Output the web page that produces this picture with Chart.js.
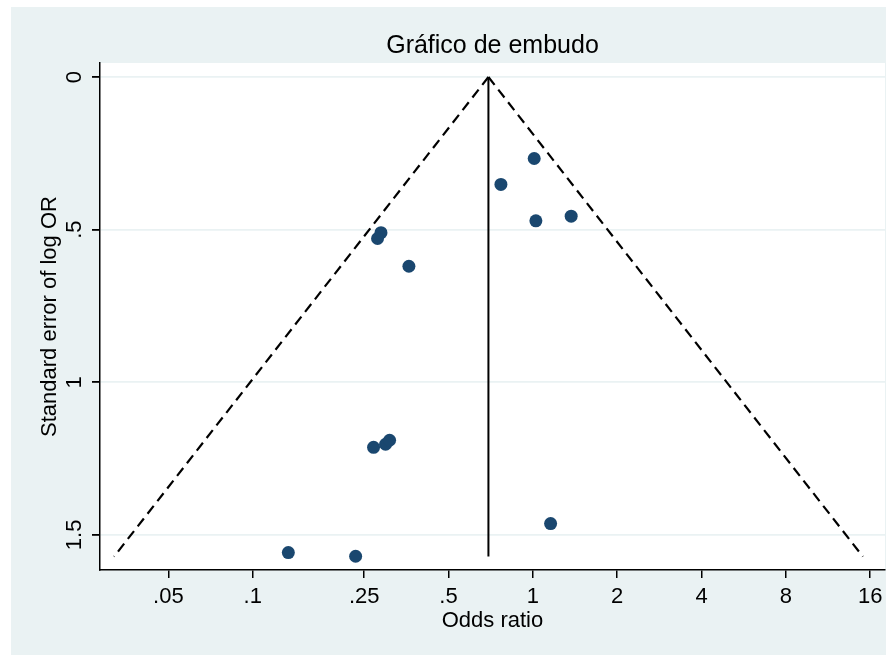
<!DOCTYPE html>
<html>
<head>
<meta charset="utf-8">
<title>Gráfico de embudo</title>
<script src="https://cdn.jsdelivr.net/npm/chart.js@4.4.1/dist/chart.umd.min.js"></script>
<style>
  html, body { margin: 0; padding: 0; background: #fff; }
  #wrap { position: absolute; left: 11px; top: 7px; width: 875px; height: 648px; background: #eaf2f3; }
</style>
</head>
<body>
<div id="wrap"><canvas id="funnelChart" width="875" height="648"></canvas></div>
<script>
// study estimates (odds ratio, SE of log OR)
const oddsRatios = [1.011, 0.769, 1.025, 1.370, 0.287, 0.279, 0.361, 0.270, 0.298, 0.308, 1.157, 0.134, 0.233];
const stdErrors  = [0.267, 0.352, 0.471, 0.456, 0.510, 0.529, 0.620, 1.213, 1.203, 1.190, 1.463, 1.558, 1.570];

// pooled OR line and the 95% funnel limits
const funnelSE    = [0, 1.571];
const pooledLine  = [0.694, 0.694];
const funnelLower = [0.694, 0.0320];
const funnelUpper = [0.694, 15.06];

const xTickValues = [0.05, 0.1, 0.25, 0.5, 1, 2, 4, 8, 16];
const xTickLabels = [".05", ".1", ".25", ".5", "1", "2", "4", "8", "16"];
const yTickValues = [0, 0.5, 1, 1.5];
const yTickLabels = ["0", ".5", "1", "1.5"];

const FONT = "'Liberation Sans', Arial, Helvetica, sans-serif";
const navy = "#1a476f";
const bluishGray = "#eaf2f3";

function toPoints(xs, ys) {
    return xs.map((x, i) => ({ x: x, y: ys[i] }));
}

// fixed axis box sizes, no extra room for overhanging labels
function fixBox(s, size) {
    if (s.isHorizontal()) s.height = size; else s.width = size;
    s.paddingLeft = 0;
    s.paddingRight = 0;
    s.paddingTop = 0;
    s.paddingBottom = 0;
}

// white plot region on the grey-blue graph region
const plotBackground = {
    id: "plotBackground",
    beforeDraw(chart) {
        const a = chart.chartArea;
        const ctx = chart.ctx;
        ctx.save();
        ctx.fillStyle = "#fff";
        ctx.fillRect(a.left, a.top, a.right - a.left, a.bottom - a.top);
        ctx.restore();
    }
};

document.addEventListener("DOMContentLoaded", function () {
    let ctx = document.getElementById("funnelChart").getContext("2d");
    let chart = new Chart(ctx, {
        type: "scatter",
        data: {
            datasets: [
                {
                    data: toPoints(oddsRatios, stdErrors),
                    backgroundColor: navy,
                    borderWidth: 0,
                    pointRadius: 6.5
                },
                {
                    data: toPoints(pooledLine, funnelSE),
                    showLine: true,
                    borderColor: "#000",
                    borderWidth: 2,
                    pointRadius: 0
                },
                {
                    data: toPoints(funnelLower, funnelSE),
                    showLine: true,
                    borderColor: "#000",
                    borderWidth: 2.2,
                    borderDash: [10, 6],
                    pointRadius: 0
                },
                {
                    data: toPoints(funnelUpper, funnelSE),
                    showLine: true,
                    borderColor: "#000",
                    borderWidth: 2.2,
                    borderDash: [10, 6],
                    pointRadius: 0
                }
            ]
        },
        options: {
            responsive: false,
            animation: false,
            layout: { autoPadding: false, padding: { top: 0, right: 1, bottom: 0, left: 0 } },
            plugins: {
                legend: { display: false },
                tooltip: { enabled: false },
                title: {
                    display: true,
                    fullSize: false,   // centre over the plot region, like Stata
                    text: "Gráfico de embudo",
                    color: "#000",
                    font: { family: FONT, size: 25, weight: "normal" },
                    padding: { top: 24, bottom: 2 }
                }
            },
            scales: {
                x: {
                    type: "logarithmic",
                    min: 0.0285,
                    max: 18.07,
                    afterBuildTicks: s => { s.ticks = xTickValues.map(v => ({ value: v })); },
                    afterFit: s => fixBox(s, 85),
                    grid: { drawOnChartArea: false, tickLength: 8, tickColor: "#000", lineWidth: 1.5 },
                    border: { color: "#000", width: 1.5 },
                    ticks: {
                        autoSkip: false,
                        minRotation: 0,
                        maxRotation: 0,
                        padding: 6,
                        color: "#000",
                        font: { family: FONT, size: 22 },
                        callback: v => xTickLabels[xTickValues.indexOf(v)]
                    },
                    title: {
                        display: true,
                        text: "Odds ratio",
                        color: "#000",
                        font: { family: FONT, size: 22 },
                        padding: { top: 0, bottom: 21 }
                    }
                },
                y: {
                    type: "linear",
                    reverse: true,
                    min: -0.0459,
                    max: 1.615,
                    afterBuildTicks: s => { s.ticks = yTickValues.map(v => ({ value: v })); },
                    afterFit: s => fixBox(s, 89),
                    grid: { color: bluishGray, lineWidth: 1.8, tickColor: "#000", tickLength: 8 },
                    border: { color: "#000", width: 1.5 },
                    ticks: {
                        minRotation: 90,
                        maxRotation: 90,
                        crossAlign: "center",
                        padding: 2,
                        color: "#000",
                        font: { family: FONT, size: 22 },
                        callback: v => yTickLabels[yTickValues.indexOf(v)]
                    },
                    title: {
                        display: true,
                        text: "Standard error of log OR",
                        color: "#000",
                        font: { family: FONT, size: 22 },
                        padding: { top: 26, bottom: 0 }
                    }
                }
            }
        },
        plugins: [plotBackground]
    });
});
</script>
</body>
</html>
